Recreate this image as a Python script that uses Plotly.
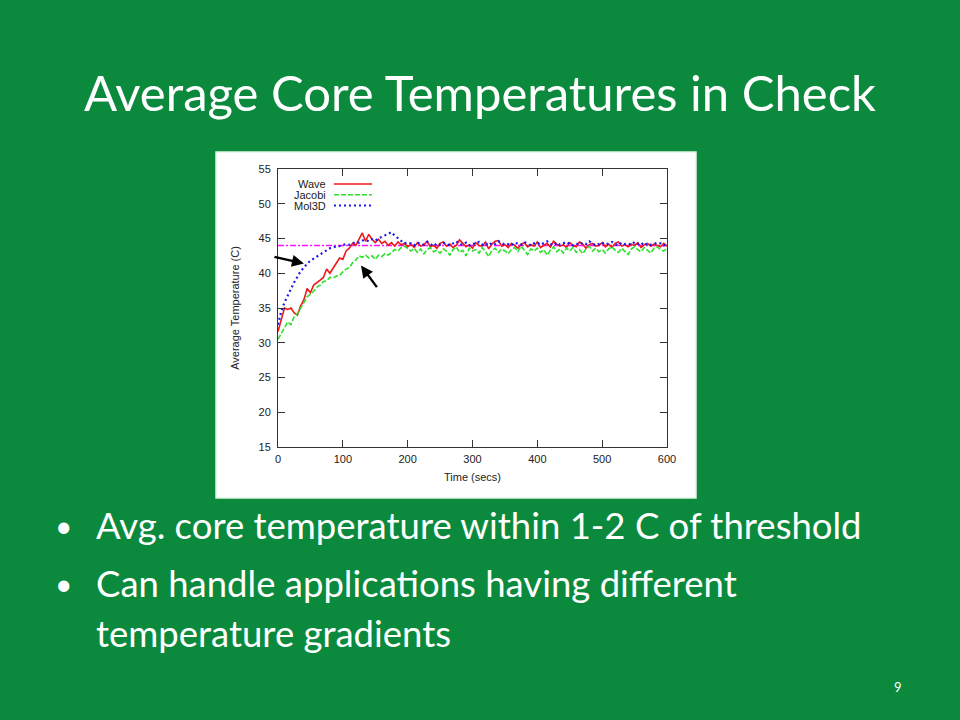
import plotly.graph_objects as go

# ---------------- data ----------------
step_secs = 5
wave = [
    31.6, 33.5, 35.0, 34.8, 35.0, 34.3, 34.0, 35.3, 36.2, 37.8,
    37.2, 38.3, 38.6, 39.0, 39.4, 40.6, 40.0, 40.8, 41.6, 42.2,
    42.0, 43.2, 43.6, 44.3, 44.0, 44.8, 45.8, 44.6, 45.6, 44.9,
    44.4, 44.9, 44.3, 44.6, 44.0, 44.4, 43.9, 44.5, 44.1, 44.3,
    43.8,
    44.2, 43.7, 44.4, 43.9, 44.1, 44.6, 43.8, 44.0, 43.6, 44.3,
    44.5, 43.9, 44.2, 43.7, 44.0, 44.8, 44.3, 43.8, 44.1, 43.6,
    44.4, 44.0, 43.9, 44.5, 43.5, 44.2, 44.6, 44.7, 43.9, 44.1,
    43.7, 44.3, 44.0, 43.6, 44.2, 44.4, 43.8, 44.1, 43.9, 44.5,
    43.7, 44.0, 44.3, 43.8, 44.6, 44.2, 43.9, 44.1, 43.7, 44.4,
    44.0, 43.8, 44.5, 44.2, 43.6, 44.1, 44.3, 43.9, 44.0, 44.4,
    43.8, 44.2, 43.7, 44.3, 44.5, 43.9, 44.1, 43.8, 44.2, 44.0,
    44.4, 43.7, 44.1, 44.3, 43.9, 44.2, 44.0, 43.8, 44.3, 43.9,
]
jacobi = [
    30.5, 31.3, 32.0, 33.0, 32.6, 33.8, 34.2, 35.0, 35.6, 36.6,
    37.0, 37.4, 38.0, 38.3, 38.8, 38.9, 39.4, 39.3, 39.6, 39.7,
    40.2, 40.6, 40.8, 41.5, 41.9, 42.5, 42.3, 42.6, 42.2, 42.5,
    42.0, 42.6, 42.4, 42.8, 42.6, 43.0, 43.4, 43.2, 43.7, 43.9,
    43.5,
    43.2, 43.6, 43.0, 43.5, 42.8, 43.4, 43.7, 43.1, 43.3, 42.9,
    43.5, 43.2, 42.6, 43.4, 43.8, 43.0, 43.3, 42.5, 43.6, 43.2,
    43.4, 42.9, 43.7, 43.1, 42.4, 43.3, 43.6, 43.0, 43.5, 43.2,
    42.8, 43.4, 43.7, 43.1, 43.9, 43.3, 42.7, 43.5, 43.2, 43.6,
    43.0, 43.4, 42.6, 43.3, 43.8, 43.1, 43.5, 42.9, 43.6, 43.2,
    43.7, 43.0, 43.4, 42.8, 43.5, 43.9, 43.2, 43.6, 43.1, 43.4,
    42.9, 43.5, 43.8, 43.3, 43.0, 43.6, 43.2, 42.7, 43.5, 43.8,
    43.4, 43.1, 43.7, 43.3, 42.9, 43.6, 43.8, 43.4, 43.2, 43.6,
]
mol3d = [
    32.6, 34.5, 35.8, 36.8, 37.8, 38.7, 39.5, 40.3, 40.8, 41.4,
    41.8, 42.1, 42.5, 42.8, 43.1, 43.4, 43.6, 43.7, 43.9, 43.9,
    44.0, 44.2, 44.1, 44.3, 44.5, 44.4, 44.7, 44.8, 44.6, 44.9,
    44.7, 45.0, 45.2, 45.4, 45.7, 45.9, 45.4, 45.0, 44.6, 44.3,
    44.4,
    44.3, 44.0, 44.4, 44.2, 44.1, 44.5, 44.2, 43.9, 44.3, 44.1,
    44.4, 44.2, 44.0, 44.3, 44.6, 44.2, 44.1, 44.4, 44.0, 44.3,
    44.2, 44.5, 44.1, 44.3, 44.0, 44.4, 44.2, 44.6, 44.3, 44.1,
    44.2, 44.0, 44.4, 44.3, 44.1, 44.5, 44.2, 44.0, 44.3, 44.4,
    44.1, 44.3, 44.6, 44.2, 44.0, 44.4, 44.1, 44.3, 44.5, 44.2,
    44.0, 44.3, 44.1, 44.4, 44.2, 44.6, 44.3, 44.0, 44.2, 44.4,
    44.1, 44.3, 44.5, 44.2, 44.0, 44.4, 44.2, 44.3, 44.1, 44.5,
    44.2, 44.4, 44.0, 44.3, 44.1, 44.2, 44.4, 44.3, 44.0, 44.2,
]
threshold_temp = 44.0
threshold_span = [0, 600]
x_ticks = [0, 100, 200, 300, 400, 500, 600]
y_ticks = [15, 20, 25, 30, 35, 40, 45, 50, 55]
series_names = ["Wave", "Jacobi", "Mol3D"]

title_text = "Average Core Temperatures in Check"
bullets = [
    "Avg. core temperature within 1-2 C of threshold",
    "Can handle applications having different",
    "temperature gradients",
]
page_number = "9"

# ---------------- layout helpers ----------------
W, H = 960, 720
L, R, T, B = 278, 667, 169, 447   # plot area in pixels


def px(x):
    return (x - L) / (R - L)


def py(y):
    return (B - y) / (B - T)


GREEN_BG = "#0b8a3d"
RED = "#f01818"
LGREEN = "#2ee02e"
BLUE = "#1a1aee"
MAGENTA = "#ff10ff"
CHART_FONT = "Liberation Sans, Arial, sans-serif"
SLIDE_FONT = "Lato, Open Sans, sans-serif"

styles = {
    "Wave": dict(color=RED, width=1.6, dash="solid"),
    "Jacobi": dict(color=LGREEN, width=1.6, dash="5px,2px"),
    "Mol3D": dict(color=BLUE, width=2.2, dash="2px,3px"),
}


def times(vals):
    return [i * step_secs for i in range(len(vals))]


fig = go.Figure()
fig.add_trace(go.Scatter(x=threshold_span, y=[threshold_temp, threshold_temp],
                         mode="lines", name="Threshold",
                         line=dict(color=MAGENTA, width=1.4, dash="6px,2px,2px,2px")))
for name, vals in zip(series_names, [wave, jacobi, mol3d]):
    fig.add_trace(go.Scatter(x=times(vals), y=vals, mode="lines", name=name,
                             line=styles[name]))

shapes = [
    dict(type="rect", xref="paper", yref="paper", layer="below",
         x0=px(216), x1=px(696), y0=py(498), y1=py(152),
         fillcolor="white", line=dict(color="#dff5e4", width=1.5)),
]
annotations = []

# legend (gnuplot style: text right-aligned, sample to the right)
leg_y = [184, 194.8, 205.5]
for name, yy in zip(series_names, leg_y):
    annotations.append(dict(xref="paper", yref="paper", x=px(328), y=py(yy),
                            text=name, showarrow=False, xanchor="right",
                            yanchor="middle", height=10,
                            font=dict(family=CHART_FONT, size=11, color="#1a1a1a")))
    st = styles[name]
    shapes.append(dict(type="line", xref="paper", yref="paper",
                       x0=px(334), x1=px(372), y0=py(yy), y1=py(yy),
                       line=dict(color=st["color"], width=st["width"], dash=st["dash"])))

# arrows
annotations.append(dict(x=40, y=41.4, xref="x", yref="y", ax=-31, ay=-7,
                        text="", showarrow=True, arrowhead=2, arrowsize=1,
                        arrowwidth=2.4, arrowcolor="black"))
annotations.append(dict(x=128, y=41.1, xref="x", yref="y", ax=17, ay=23,
                        text="", showarrow=True, arrowhead=2, arrowsize=1,
                        arrowwidth=2.4, arrowcolor="black"))

# slide texts
annotations.append(dict(xref="paper", yref="paper", x=px(480), y=py(92),
                        text=title_text, showarrow=False, xanchor="center",
                        yanchor="middle",
                        font=dict(family=SLIDE_FONT, size=49, color="white")))
bullet_y = [525, 583, 633]
for i, (txt, yy) in enumerate(zip(bullets, bullet_y)):
    if i < 2:
        annotations.append(dict(xref="paper", yref="paper", x=px(63), y=py(yy),
                                text="•", showarrow=False, xanchor="center",
                                yanchor="middle",
                                font=dict(family=SLIDE_FONT, size=30, color="white")))
    annotations.append(dict(xref="paper", yref="paper", x=px(94), y=py(yy),
                            text=txt, showarrow=False, xanchor="left",
                            yanchor="middle",
                            font=dict(family=SLIDE_FONT, size=36.5, color="white")))
annotations.append(dict(xref="paper", yref="paper", x=px(898), y=py(687),
                        text=page_number, showarrow=False, xanchor="center",
                        yanchor="middle",
                        font=dict(family=SLIDE_FONT, size=13, color="white")))

axis_common = dict(showgrid=False, zeroline=False, showline=True,
                   linecolor="#333", linewidth=1, mirror="ticks",
                   ticks="inside", ticklen=7, tickwidth=1, tickcolor="#333",
                   tickfont=dict(family=CHART_FONT, size=11, color="#222"))

fig.update_layout(
    width=W, height=H,
    margin=dict(l=L, r=W - R, t=T, b=H - B, pad=0),
    paper_bgcolor=GREEN_BG, plot_bgcolor="white",
    showlegend=False,
    xaxis=dict(range=[0, 600], tickvals=x_ticks, ticklabelstandoff=2,
               title=dict(text="Time (secs)", standoff=9,
                          font=dict(family=CHART_FONT, size=11, color="#222")),
               **axis_common),
    yaxis=dict(range=[15, 55], tickvals=y_ticks, ticklabelstandoff=4,
               title=dict(text="Average Temperature (C)", standoff=16,
                          font=dict(family=CHART_FONT, size=11, color="#222")),
               **axis_common),
    shapes=shapes,
    annotations=annotations,
)

fig.write_html("out.html",
               config={"displayModeBar": False},
               post_script="document.body.style.margin='0';"
                           "document.body.style.overflow='hidden';")
